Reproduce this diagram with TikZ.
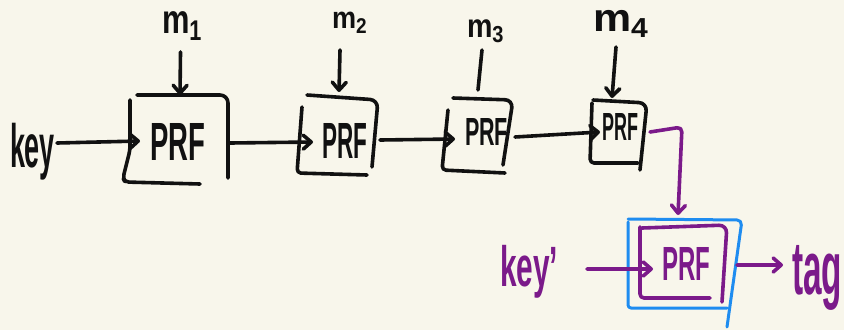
\documentclass[tikz,border=0pt]{standalone}
\usepackage{fontspec}
\setmainfont{Liberation Sans}
\usetikzlibrary{arrows.meta,calc}
\definecolor{paper}{HTML}{F8F6EB}
\definecolor{ink}{HTML}{111111}
\definecolor{plum}{HTML}{7B1A8A}
\definecolor{sky}{HTML}{1E8CF0}
\begin{document}
\begin{tikzpicture}[x=1pt,y=-1pt,
  pen/.style={line width=3.6pt,line cap=round,line join=round},
  arr/.style={pen,-{Straight Barb[length=8pt,width=14pt,round]}},
  stroke/.style={pen,rounded corners=8pt},
  hand/.style={inner sep=0pt,outer sep=0pt,anchor=north west,font=\bfseries},
  prf/.style={inner sep=0pt,outer sep=0pt,draw=none},
  prftext/.style={font=\bfseries},
]
\useasboundingbox[fill=paper] (0,0) rectangle (844,330);

% labels written by hand
\node[hand,text=ink] (key) at (10,123) {\resizebox*{45pt}{57pt}{key}};
\node[hand,text=ink] (m1) at (162,12) {\resizebox*{41pt}{28pt}{m\textsubscript{1}}};
\node[hand,text=ink] (m2) at (332,12) {\resizebox*{36pt}{21pt}{m\textsubscript{2}}};
\node[hand,text=ink] (m3) at (467,20) {\resizebox*{38pt}{23pt}{m\textsubscript{3}}};
\node[hand,text=ink] (m4) at (593,10) {\resizebox*{57pt}{27pt}{m\textsubscript{4}}};
\node[hand,text=plum] (keyp) at (500,245) {\resizebox*{58pt}{53pt}{key’}};
\node[hand,text=plum] (tag) at (792,245) {\resizebox*{50pt}{65pt}{tag}};

% PRF boxes (outlines drawn as pen strokes below)
\node[prf,minimum width=103pt,minimum height=88pt,
  label={[prftext,text=ink,shift={(1.5,2.5)}]center:\resizebox{55pt}{37pt}{PRF}}] (b1) at (176,139) {};
\node[prf,minimum width=81pt,minimum height=78pt,
  label={[prftext,text=ink,shift={(7,4.5)}]center:\resizebox{45pt}{35pt}{PRF}}] (b2) at (337.5,136) {};
\node[prf,minimum width=70pt,minimum height=74pt,
  label={[prftext,text=ink,shift={(9.5,-3.5)}]center:\resizebox{43pt}{27pt}{PRF}}] (b3) at (477,135) {};
\node[prf,minimum width=54pt,minimum height=67pt,
  label={[prftext,text=ink,shift={(3,-5)}]center:\resizebox{36pt}{27pt}{PRF}}] (b4) at (617,131.5) {};
\node[prf,minimum width=88pt,minimum height=75pt,
  label={[prftext,text=plum,shift={(2,3)}]center:\resizebox{48pt}{33pt}{PRF}}] (b5) at (684,260.5) {};

% box outlines
\begin{scope}[ink]
\draw[stroke] (137,95) -- (228,95) -- (228,178);
\draw[pen,rounded corners=4pt] (130,100) -- (130,150) -- (123,178) -- (125,182) -- (200,184);
\draw[stroke] (307,95) -- (378,100) -- (372,167);
\draw[pen,rounded corners=4pt] (302,107) -- (297,173) -- (367,175);
\draw[stroke] (453,98) -- (513,100) -- (503,165);
\draw[pen,rounded corners=4pt] (448,110) -- (442,170) -- (505,173);
\draw[stroke] (593,100) -- (647,103) -- (640,170);
\draw[pen,rounded corners=4pt] (592,103) -- (590,163) -- (638,163);
\end{scope}
\draw[stroke,plum] (642,228) -- (727,225) -- (722,302);
\draw[pen,plum,rounded corners=4pt] (640,227) -- (640,298) -- (710,298);
\draw[stroke,sky,line width=3pt,rounded corners=5pt] (628,219) -- (742,220) -- (727,327);
\draw[pen,sky,line width=3pt,rounded corners=3pt] (628,222) -- (628,308) -- (727,308);

% chain connectors
\draw[arr,ink] ($(key.east)+(2,-8.5)$) -- ($(b1.west)+(15.5,2)$);
\draw[arr,ink] ($(b1.east)+(2.5,4)$) -- ($(b2.west)+(16,6)$);
\draw[arr,ink] ($(b2.east)+(2,4)$) -- ($(b3.west)+(13,4)$);
\draw[arr,ink] ($(b3.east)+(3,2)$) -- ($(b4.west)+(10,0.5)$);
\draw[arr,ink] ($(m1.south)+(-2,12)$) -- ($(b1.north)+(4,0)$);
\draw[arr,ink] ($(m2.south)+(-10,17)$) -- ($(b2.north)+(1.5,-5)$);
\draw[pen,ink] ($(m3.south)+(-4,7)$) -- ($(b3.north)+(1,-8)$);
\draw[arr,ink] ($(m4.south)+(-5.5,10)$) -- ($(b4.north)+(-5,0)$);

% final keyed PRF
\draw[arr,plum,rounded corners=5pt] ($(b4.east)+(6,0.5)$) -- ($(b5.north)+(-2,-96)$) -- ($(b5.north)+(-6,-8)$);
\draw[arr,plum] ($(keyp.east)+(29,-2.5)$) -- ($(b5.west)+(13,8.5)$);
\draw[arr,plum] ($(b5.east)+(9,4.5)$) -- ($(tag.west)+(-9,-12.5)$);
\end{tikzpicture}
\end{document}
